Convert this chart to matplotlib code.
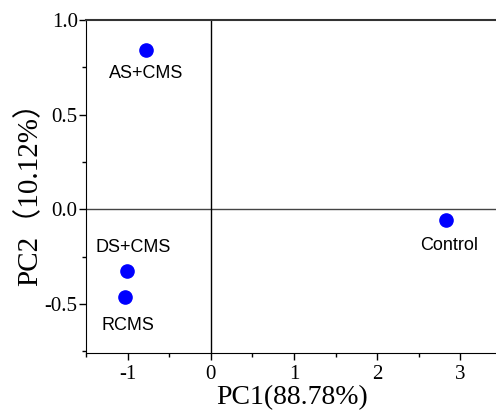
import matplotlib.pyplot as plt
from matplotlib.ticker import MultipleLocator

plt.rcParams["axes.unicode_minus"] = False

# PCA scores
groups = ["AS+CMS", "DS+CMS", "RCMS", "Control"]
pc1 = [-0.78, -1.01, -1.03, 2.83]
pc2 = [0.842, -0.326, -0.463, -0.058]

# label placement (pixel offsets from the point, vertical alignment)
label_dx = [0, 6, 3, 3]
label_dy = [-15, 19, -20, -17]
label_va = ["top", "baseline", "top", "top"]

serif = ["Liberation Serif", "Noto Sans CJK SC"]

fig = plt.figure(figsize=(4.96, 4.16), dpi=100)
ax = fig.add_axes([0.1734, 0.1514, 0.83, 0.8006])

ax.axhline(0, color="#444444", lw=1.0, zorder=1)
ax.axvline(0, color="black", lw=1.0, zorder=1)
ax.plot(pc1, pc2, "o", color="#0000ff", markersize=9.5, zorder=3)

for name, x, y, dx, dy, va in zip(groups, pc1, pc2, label_dx, label_dy, label_va):
    ax.annotate(name, (x, y), xytext=(dx, dy), textcoords="offset pixels",
                ha="center", va=va, fontsize=13, family="Liberation Sans")

ax.set_xlim(-1.5, 3.45)
ax.set_ylim(-0.76, 1.0)
ax.xaxis.set_major_locator(MultipleLocator(1))
ax.xaxis.set_minor_locator(MultipleLocator(0.5))
ax.yaxis.set_major_locator(MultipleLocator(0.5))
ax.yaxis.set_minor_locator(MultipleLocator(0.25))
ax.tick_params(which="both", direction="out", top=False, right=False)
ax.tick_params(which="major", length=5, width=1, labelsize=15)
ax.tick_params(axis="y", which="major", pad=1)
ax.tick_params(which="minor", length=3, width=1)
for lab in ax.get_xticklabels() + ax.get_yticklabels():
    lab.set_family("Liberation Serif")
ax.spines["right"].set_visible(False)
ax.spines["top"].set_color("#333333")
ax.spines["top"].set_linewidth(1.5)

ax.set_xlabel("PC1(88.78%)", family=serif, fontsize=20, labelpad=1)
ax.set_ylabel("PC2（10.12%）", family=serif, fontsize=21, labelpad=1)

plt.savefig("out.png", dpi=100)
